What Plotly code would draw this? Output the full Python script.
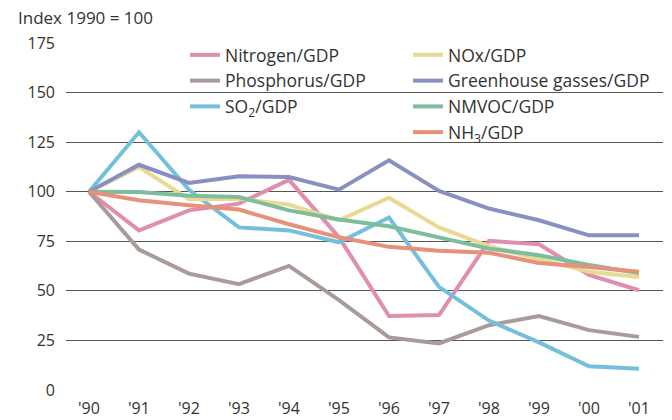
import plotly.graph_objects as go

years = ["'90", "'91", "'92", "'93", "'94", "'95", "'96", "'97", "'98", "'99", "'00", "'01"]
nitrogen = [100, 80.5, 90.6, 94, 106, 77, 37.3, 37.8, 75.2, 73.5, 58, 50.3]
phosphorus = [100, 70.8, 58.7, 53.4, 62.6, 45.3, 26.5, 23.5, 32.7, 37.3, 30.2, 26.8]
so2 = [100, 130, 101, 82, 80.5, 74.5, 87, 52, 35, 24, 12, 10.7]
nox = [100, 112.4, 96.2, 96.5, 93.5, 85.6, 97, 82, 72.5, 65.8, 59.6, 57]
ghg = [100, 113.6, 104.4, 107.8, 107.4, 101, 115.8, 100.4, 91.5, 85.6, 78, 78]
nmvoc = [100, 99.8, 98, 97.3, 90.6, 86, 82.6, 76.9, 71.3, 68, 63, 59]
nh3 = [100, 95.7, 93.2, 91, 83.6, 77, 72.2, 70.2, 69.2, 64.1, 62, 59.6]
y_ticks = [0, 25, 50, 75, 100, 125, 150, 175]

series = [
    ("Nitrogen/GDP", nitrogen, "#df8eae", "legend"),
    ("Phosphorus/GDP", phosphorus, "#a99b97", "legend"),
    ("SO<sub>2</sub>/GDP", so2, "#74c0dc", "legend"),
    ("NOx/GDP", nox, "#e9da93", "legend2"),
    ("Greenhouse gasses/GDP", ghg, "#8890c2", "legend2"),
    ("NMVOC/GDP", nmvoc, "#7dbd9c", "legend2"),
    ("NH<sub>3</sub>/GDP", nh3, "#e8917a", "legend2"),
]

x_idx = list(range(len(years)))
fig = go.Figure()
for name, vals, color, lg in series:
    fig.add_trace(go.Scatter(x=x_idx, y=vals, name=name, mode="lines",
                             line=dict(color=color, width=4), legend=lg))

PL, PT, PW, PH = 66, 43, 597, 347
font_family = "Open Sans"
leg_common = dict(xanchor="left", yanchor="top", bgcolor="rgba(0,0,0,0)",
                  font=dict(size=17.5, color="#333333"), tracegroupgap=0, itemwidth=30)
fig.update_layout(
    width=672, height=420,
    margin=dict(l=PL, r=672 - PL - PW, t=PT, b=420 - PT - PH, autoexpand=False),
    paper_bgcolor="white", plot_bgcolor="white",
    font=dict(family=font_family, size=15, color="#333333"),
    showlegend=True,
    legend=dict(x=(185 - PL) / PW, y=1.0 + (PT - 37) / PH, **leg_common),
    legend2=dict(x=(408 - PL) / PW, y=1.0 + (PT - 37) / PH, **leg_common),
    xaxis=dict(range=[-0.46, 11.48], tickvals=x_idx, ticktext=years, showgrid=False,
               zeroline=False, showline=False, ticks="", ticklabelstandoff=7,
               tickfont=dict(size=16), fixedrange=True, automargin=False),
    yaxis=dict(range=[0, 175], tickvals=y_ticks, showgrid=True, gridcolor="#555555",
               gridwidth=1, zeroline=False, showline=False, ticks="", ticklabelstandoff=10,
               tickfont=dict(size=16), fixedrange=True, automargin=False),
    annotations=[dict(text="Index 1990 = 100", xref="paper", yref="paper",
                      x=-(PL - 16) / PW, y=1 + (PT - 4) / PH, xanchor="left", yanchor="top",
                      showarrow=False, font=dict(size=17, color="#333333"))],
)

fig.write_html("out.html", config={"displayModeBar": False},
               post_script="document.body.style.margin='0';")
